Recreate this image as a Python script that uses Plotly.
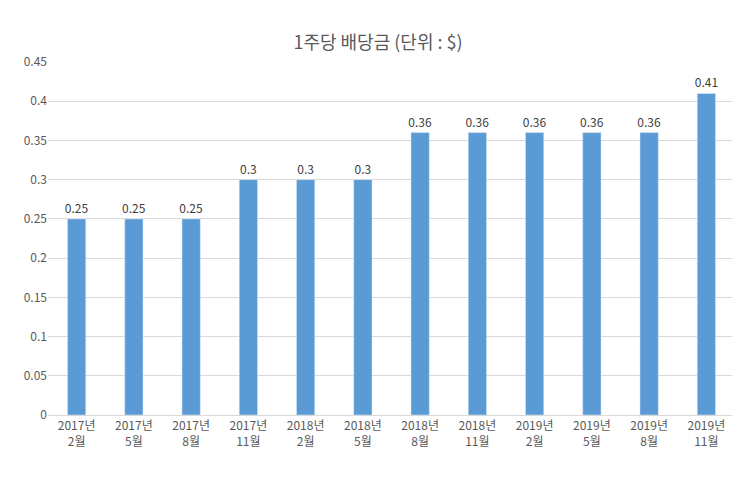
import plotly.graph_objects as go

categories = ["2017년<br>2월","2017년<br>5월","2017년<br>8월","2017년<br>11월","2018년<br>2월","2018년<br>5월",
              "2018년<br>8월","2018년<br>11월","2019년<br>2월","2019년<br>5월","2019년<br>8월","2019년<br>11월"]
values = [0.25,0.25,0.25,0.3,0.3,0.3,0.36,0.36,0.36,0.36,0.36,0.41]
tickvals = [0,0.05,0.1,0.15,0.2,0.25,0.3,0.35,0.4,0.45]
ticktext = ["0","0.05","0.1","0.15","0.2","0.25","0.3","0.35","0.4","0.45"]

fig = go.Figure(go.Bar(x=categories, y=values, marker_color="#5b9bd5",
                       text=[f"{v:g}" for v in values], textposition="outside",
                       textangle=0, constraintext="none",
                       textfont=dict(size=12, color="#404040"), cliponaxis=False))
fig.update_layout(
    width=740, height=479, plot_bgcolor="white", paper_bgcolor="white",
    font=dict(family="Noto Sans CJK KR", color="#595959", size=12),
    title=dict(text="1주당 배당금 (단위 : $)", x=0.5, y=0.94, xanchor="center",
               font=dict(size=18, color="#595959")),
    margin=dict(l=40, r=13, t=54, b=72),
    bargap=0.68, showlegend=False,
    uniformtext=dict(minsize=12, mode="show"),
    yaxis=dict(range=[0,0.45], tickvals=tickvals, ticktext=ticktext,
               gridcolor="#d9d9d9", zeroline=False, showline=False, ticks=""),
    xaxis=dict(showline=True, linecolor="#d9d9d9", ticks=""),
)
fig.write_html("out.html")
